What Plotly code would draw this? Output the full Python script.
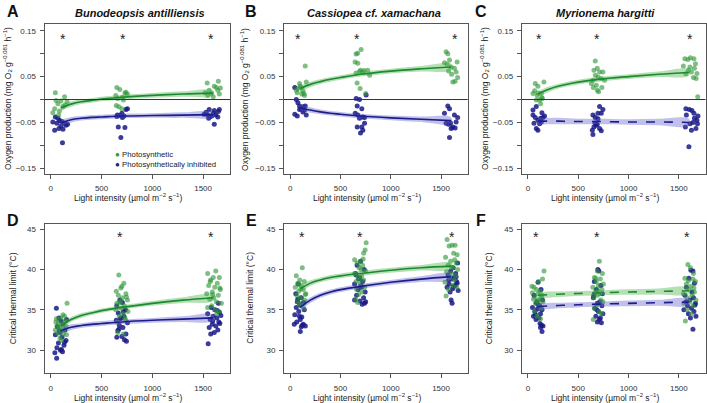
import plotly.graph_objects as go

W, H = 707, 403

# ---------------- DATA ----------------
# Fitted-curve grid (light intensity)
fit_x = [100, 200, 300, 400, 500, 700, 1000, 1300, 1600]

# Panel A: Bunodeopsis antilliensis (oxygen production)
A_green_x = [45, 52, 70, 38, 85, 118, 140, 135, 100, 20, 78, 160,
             650, 680, 640, 730, 755, 705, 715, 670, 645, 700, 740, 660,
             1540, 1650, 1610, 1560, 1630, 1645, 1580, 1545, 1520, 1670, 1600, 1660]
A_green_y = [0.015, -0.002, -0.009, -0.020, -0.025, -0.016, -0.012, 0.006, -0.003, -0.029, -0.034, -0.005,
             0.026, 0.022, 0.009, 0.014, 0.012, 0.005, -0.001, -0.016, -0.013, -0.020, 0.016, 0.002,
             0.036, 0.040, 0.029, 0.020, 0.026, 0.020, 0.013, 0.009, 0.015, 0.025, 0.006, 0.012]
A_blue_x = [45, 70, 88, 38, 80, 100, 120, 135, 150, 165, 60, 115, 20, 110,
            655, 680, 720, 740, 755, 665, 730, 690, 705, 650, 700,
            1560, 1610, 1660, 1510, 1545, 1585, 1625, 1645, 1570, 1600, 1530, 1610, 1650, 1555]
A_blue_y = [-0.038, -0.041, -0.046, -0.067, -0.063, -0.058, -0.065, -0.052, -0.056, -0.054, -0.052, -0.094, -0.049, -0.048,
            -0.034, -0.035, -0.036, -0.022, -0.020, -0.060, -0.061, -0.083, -0.039, -0.037, -0.030,
            -0.022, -0.024, -0.022, -0.032, -0.034, -0.036, -0.034, -0.038, -0.037, -0.030, -0.028, -0.054, -0.026, -0.041]
A_green_fit = [-0.018, -0.010, -0.005, -0.002, 0.001, 0.005, 0.009, 0.012, 0.014]
A_green_lo = [-0.025, -0.016, -0.010, -0.007, -0.004, 0.000, 0.004, 0.006, 0.008]
A_green_hi = [-0.011, -0.004, 0.000, 0.003, 0.006, 0.010, 0.014, 0.018, 0.020]
A_blue_fit = [-0.051, -0.044, -0.041, -0.039, -0.038, -0.036, -0.035, -0.034, -0.033]
A_blue_lo = [-0.058, -0.050, -0.046, -0.044, -0.043, -0.041, -0.040, -0.040, -0.039]
A_blue_hi = [-0.044, -0.038, -0.036, -0.034, -0.033, -0.031, -0.030, -0.028, -0.027]

# Panel B: Cassiopea cf. xamachana
B_green_x = [60, 76, 93, 109, 70, 126, 142, 116, 159, 149, 99, 136,
             655, 670, 705, 645, 672, 665, 695, 655, 700, 720, 735, 770, 790, 750, 688,
             1550, 1567, 1584, 1561, 1600, 1633, 1660, 1650, 1605, 1617, 1640, 1665, 1575, 1534]
B_green_y = [0.020, 0.024, 0.035, 0.026, 0.015, 0.019, 0.009, 0.012, 0.038, 0.073, 0.029, 0.013,
             0.099, 0.101, 0.109, 0.082, 0.079, 0.036, 0.024, 0.058, 0.064, 0.060, 0.063, 0.064, 0.053, 0.013, 0.061,
             0.104, 0.100, 0.086, 0.077, 0.071, 0.068, 0.082, 0.060, 0.055, 0.038, 0.040, 0.048, 0.062, 0.080]
B_blue_x = [60, 76, 93, 109, 126, 142, 45, 70, 159, 126, 93, 149, 45,
            656, 689, 666, 712, 646, 673, 722, 739, 689, 666, 712, 739, 699, 722, 755,
            1567, 1584, 1534, 1633, 1550, 1594, 1650, 1665, 1600, 1617, 1640, 1584, 1575]
B_blue_y = [0.000, -0.007, -0.014, -0.020, -0.016, -0.023, -0.032, -0.036, -0.034, -0.027, -0.022, -0.014, 0.026,
            0.002, 0.000, -0.014, -0.020, -0.030, -0.034, -0.038, -0.039, -0.041, -0.060, -0.060, -0.052, -0.073, -0.067, 0.010,
            -0.014, -0.020, -0.030, -0.034, -0.052, -0.051, -0.049, -0.039, -0.063, -0.060, -0.062, -0.083, -0.054]
B_green_fit = [0.024, 0.033, 0.039, 0.044, 0.048, 0.055, 0.062, 0.067, 0.071]
B_green_lo = [0.017, 0.027, 0.034, 0.039, 0.043, 0.050, 0.057, 0.061, 0.064]
B_green_hi = [0.031, 0.039, 0.044, 0.049, 0.053, 0.060, 0.067, 0.073, 0.078]
B_blue_fit = [-0.018, -0.023, -0.027, -0.030, -0.032, -0.036, -0.040, -0.043, -0.046]
B_blue_lo = [-0.025, -0.029, -0.032, -0.035, -0.037, -0.041, -0.045, -0.049, -0.053]
B_blue_hi = [-0.011, -0.017, -0.022, -0.025, -0.027, -0.031, -0.035, -0.037, -0.039]

# Panel C: Myrionema hargitti
C_green_x = [50, 66, 73, 99, 116, 93, 133, 139, 159, 83, 126, 142, 100,
             669, 689, 656, 712, 670, 696, 729, 745, 646, 679, 690, 650, 702, 735, 762, 630,
             1560, 1590, 1615, 1650, 1665, 1545, 1595, 1625, 1655, 1570, 1680, 1672, 1645, 1688, 1610]
C_green_y = [0.013, 0.019, 0.035, 0.029, -0.001, 0.009, 0.013, 0.004, 0.038, -0.001, -0.009, 0.002, 0.014,
             0.084, 0.068, 0.064, 0.060, 0.053, 0.049, 0.046, 0.060, 0.042, 0.031, 0.020, 0.026, 0.017, 0.026, 0.042, 0.035,
             0.089, 0.087, 0.091, 0.089, 0.078, 0.073, 0.064, 0.060, 0.068, 0.056, 0.057, 0.046, 0.048, 0.006, 0.071]
C_blue_x = [50, 73, 99, 126, 149, 165, 60, 116, 83, 99, 133, 83, 50, 139,
            646, 669, 696, 729, 745, 712, 666, 689, 640, 712, 729, 646, 679, 696, 656,
            1570, 1605, 1630, 1575, 1655, 1680, 1690, 1640, 1610, 1565, 1670, 1625, 1600, 1685, 1650]
C_blue_y = [-0.034, -0.039, -0.045, -0.041, -0.039, -0.036, -0.052, -0.053, -0.063, -0.067, -0.049, -0.015, -0.023, -0.029,
            -0.034, -0.039, -0.030, -0.030, -0.022, -0.015, -0.051, -0.054, -0.067, -0.063, -0.068, -0.076, -0.056, -0.042, -0.060,
            -0.020, -0.022, -0.024, -0.034, -0.041, -0.045, -0.036, -0.050, -0.053, -0.060, -0.063, -0.067, -0.103, -0.053, -0.030]
C_green_fit = [0.012, 0.022, 0.029, 0.034, 0.038, 0.044, 0.050, 0.055, 0.059]
C_green_lo = [0.006, 0.016, 0.024, 0.029, 0.033, 0.039, 0.045, 0.049, 0.052]
C_green_hi = [0.018, 0.028, 0.034, 0.039, 0.043, 0.049, 0.055, 0.061, 0.066]
C_blue_fit = [-0.047, -0.047, -0.047, -0.048, -0.048, -0.048, -0.049, -0.049, -0.050]
C_blue_lo = [-0.055, -0.054, -0.054, -0.054, -0.054, -0.054, -0.055, -0.056, -0.058]
C_blue_hi = [-0.039, -0.040, -0.040, -0.041, -0.042, -0.042, -0.043, -0.042, -0.042]

# Panel D: Bunodeopsis antilliensis (critical thermal limit)
D_green_x = [160, 120, 95, 55, 140, 75, 110, 60, 150, 85, 130, 45, 100, 70, 155, 90, 125, 50, 135, 80, 105,
             670, 720, 690, 645, 740, 665, 705, 755, 680, 650, 725, 695, 640, 760, 710, 675, 735, 655, 700, 745, 685, 660, 715, 730,
             1625, 1545, 1600, 1660, 1575, 1640, 1555, 1615, 1670, 1590, 1535, 1650, 1605, 1565, 1630, 1680, 1585, 1545, 1620, 1655, 1595, 1665, 1570, 1635]
D_green_y = [35.8, 34.4, 34.0, 33.9, 33.6, 33.4, 33.2, 33.0, 33.0, 32.8, 32.6, 32.5, 32.3, 32.1, 31.9, 31.5, 32.0, 33.5, 34.2, 32.7, 31.2,
             39.3, 38.3, 37.7, 37.3, 37.0, 36.8, 36.5, 36.2, 36.0, 35.8, 35.5, 35.2, 35.0, 34.8, 34.5, 34.2, 33.8, 33.5, 37.9, 36.6, 35.9, 32.2, 32.0, 34.0,
             39.8, 39.5, 39.0, 39.0, 38.7, 38.3, 38.0, 37.8, 37.5, 37.2, 37.0, 36.8, 36.5, 36.3, 36.0, 35.8, 35.5, 35.3, 35.0, 34.8, 36.9, 37.7, 38.5, 34.5]
D_blue_x = [55, 80, 100, 120, 65, 140, 90, 45, 110, 150, 75, 130, 60, 95, 115, 40, 58, 135, 85, 155, 105,
            680, 705, 650, 735, 665, 720, 690, 645, 755, 675, 710, 660, 740, 700, 650, 725, 745, 685, 715, 670,
            1650, 1580, 1615, 1660, 1545, 1600, 1635, 1570, 1655, 1590, 1625, 1560, 1645, 1610, 1550, 1675, 1595, 1640, 1665, 1575]
D_blue_y = [35.2, 34.0, 33.6, 33.2, 32.9, 32.5, 32.2, 31.9, 31.6, 31.2, 30.9, 30.6, 30.3, 30.0, 29.8, 29.7, 29.0, 31.0, 32.4, 33.8, 30.1,
            36.2, 35.9, 35.5, 35.0, 34.6, 34.2, 34.0, 33.7, 33.4, 33.1, 32.8, 32.4, 32.0, 31.7, 31.6, 31.3, 31.1, 33.9, 34.8, 32.6,
            35.8, 35.3, 35.0, 34.7, 34.5, 34.2, 34.0, 33.8, 33.5, 33.2, 33.0, 32.8, 32.5, 32.2, 30.8, 34.3, 33.6, 34.9, 33.3, 32.0]
D_green_fit = [33.0, 33.8, 34.3, 34.6, 34.9, 35.3, 35.8, 36.2, 36.5]
D_green_lo = [32.6, 33.5, 34.0, 34.35, 34.65, 35.05, 35.5, 35.85, 36.1]
D_green_hi = [33.4, 34.1, 34.6, 34.85, 35.15, 35.55, 36.1, 36.55, 36.9]
D_blue_fit = [32.4, 32.85, 33.05, 33.2, 33.3, 33.5, 33.7, 33.85, 34.0]
D_blue_lo = [32.0, 32.5, 32.75, 32.9, 33.0, 33.2, 33.4, 33.5, 33.6]
D_blue_hi = [32.8, 33.2, 33.35, 33.5, 33.6, 33.8, 34.0, 34.2, 34.4]

# Panel E: Cassiopea cf. xamachana
E_green_x = [120, 60, 95, 140, 75, 110, 50, 130, 85, 155, 65, 100, 145, 70, 115, 90, 135, 80, 105, 150,
             755, 745, 730, 640, 700, 665, 720, 685, 750, 640, 710, 675, 730, 655, 695, 740, 660, 715, 680, 705, 725, 690, 650, 670,
             1560, 1610, 1640, 1580, 1625, 1660, 1545, 1595, 1650, 1570, 1620, 1665, 1555, 1600, 1645, 1585, 1630, 1540, 1615, 1655, 1575, 1550, 1635, 1605]
E_green_y = [40.2, 39.2, 38.7, 38.5, 38.3, 38.0, 37.8, 37.5, 37.3, 37.0, 36.8, 36.5, 36.2, 36.0, 35.8, 35.5, 35.2, 38.2, 37.6, 36.9,
             43.3, 42.4, 42.0, 41.2, 41.0, 40.8, 40.5, 40.2, 39.8, 39.5, 39.2, 39.0, 38.7, 38.5, 38.2, 37.8, 37.5, 37.2, 36.9, 40.0, 41.3, 38.8, 36.3, 35.9,
             43.7, 43.0, 43.0, 42.9, 42.0, 41.8, 41.5, 41.0, 40.8, 40.5, 40.2, 40.0, 39.7, 39.5, 39.2, 39.0, 38.7, 38.4, 38.0, 37.8, 37.5, 36.7, 41.2, 40.3]
E_blue_x = [80, 55, 110, 70, 125, 95, 60, 140, 85, 45, 115, 100, 40, 130, 150, 120, 110, 100, 65, 90, 135, 75,
            700, 665, 735, 650, 690, 720, 640, 705, 675, 745, 660, 730, 640, 695, 750, 715, 740, 680, 710, 655,
            1665, 1620, 1595, 1645, 1570, 1630, 1605, 1655, 1580, 1640, 1560, 1615, 1670, 1590, 1600, 1610, 1650, 1575, 1625, 1660]
E_blue_y = [38.2, 37.0, 36.5, 36.0, 35.8, 35.6, 35.3, 35.0, 34.8, 34.4, 34.1, 33.8, 33.2, 33.2, 33.0, 33.1, 32.9, 32.3, 33.5, 34.2, 35.9, 36.3,
            41.0, 40.5, 40.0, 39.5, 39.0, 38.5, 38.2, 38.0, 37.5, 37.2, 36.8, 36.5, 36.2, 36.1, 36.0, 35.7, 35.8, 38.8, 37.8, 39.3,
            40.8, 40.2, 39.8, 39.5, 39.3, 39.0, 38.8, 38.5, 38.2, 38.0, 37.8, 37.6, 37.4, 37.2, 36.2, 35.8, 39.1, 38.7, 37.9, 38.3]
E_green_fit = [37.6, 38.3, 38.7, 39.0, 39.2, 39.5, 39.9, 40.2, 40.4]
E_green_lo = [37.2, 37.95, 38.4, 38.7, 38.9, 39.2, 39.6, 39.85, 40.0]
E_green_hi = [38.0, 38.65, 39.0, 39.3, 39.5, 39.8, 40.2, 40.55, 40.8]
E_blue_fit = [35.3, 36.2, 36.8, 37.2, 37.5, 37.9, 38.4, 38.8, 39.1]
E_blue_lo = [34.9, 35.85, 36.5, 36.9, 37.2, 37.6, 38.1, 38.45, 38.7]
E_blue_hi = [35.7, 36.55, 37.1, 37.5, 37.8, 38.2, 38.7, 39.15, 39.5]

# Panel F: Myrionema hargitti
F_green_x = [160, 145, 105, 60, 85, 120, 45, 100, 140, 70, 130, 55, 95, 150, 75, 115, 135, 65, 90, 125, 40, 110,
             710, 690, 740, 660, 720, 680, 750, 700, 645, 735, 670, 715, 690, 655, 725, 745, 685, 660, 705, 730, 650, 675, 695,
             1590, 1615, 1645, 1560, 1640, 1665, 1575, 1620, 1600, 1655, 1545, 1630, 1585, 1670, 1610, 1550, 1640, 1580, 1625, 1565, 1650, 1595]
F_green_y = [39.8, 38.8, 38.5, 37.8, 37.5, 37.3, 37.1, 37.0, 36.8, 36.6, 36.5, 36.3, 36.1, 36.0, 35.8, 35.6, 35.2, 34.8, 34.2, 33.9, 37.9, 36.2,
             41.0, 39.8, 39.5, 39.0, 38.8, 38.5, 38.2, 38.0, 37.8, 37.5, 37.2, 37.0, 36.8, 36.5, 36.2, 36.0, 35.6, 35.2, 34.8, 34.5, 33.8, 38.9, 37.4,
             40.6, 40.2, 39.5, 38.9, 38.8, 38.5, 38.2, 37.9, 37.5, 37.2, 37.0, 36.8, 36.5, 36.2, 36.0, 35.8, 35.5, 35.0, 34.5, 33.6, 37.7, 38.6]
F_blue_x = [100, 130, 60, 145, 85, 115, 45, 95, 140, 70, 125, 55, 110, 80, 120, 135, 150, 125, 140, 105, 75, 90,
            695, 705, 660, 725, 680, 740, 650, 715, 690, 735, 665, 700, 745, 675, 720, 710, 690, 730, 655, 685,
            1620, 1640, 1600, 1655, 1575, 1630, 1560, 1645, 1610, 1665, 1585, 1625, 1550, 1650, 1595, 1670, 1615, 1640, 1570, 1660]
F_blue_y = [38.4, 37.5, 36.8, 36.2, 35.8, 35.5, 35.3, 35.1, 35.0, 34.8, 34.5, 34.2, 34.0, 33.8, 33.3, 33.1, 33.0, 32.8, 32.3, 35.6, 34.4, 36.0,
            40.0, 39.8, 38.5, 38.0, 37.5, 37.0, 36.5, 36.0, 35.8, 35.5, 35.2, 34.8, 34.5, 34.2, 34.0, 33.8, 33.5, 33.4, 36.8, 35.0,
            39.9, 39.8, 38.9, 38.3, 37.8, 37.2, 36.8, 36.5, 36.2, 35.8, 35.5, 35.2, 35.0, 34.8, 34.5, 34.2, 34.0, 32.6, 36.0, 35.6]
F_green_fit = [36.8, 36.87, 36.93, 36.98, 37.02, 37.1, 37.2, 37.28, 37.35]
F_green_lo = [36.4, 36.5, 36.6, 36.65, 36.7, 36.8, 36.85, 36.9, 36.95]
F_green_hi = [37.2, 37.25, 37.27, 37.3, 37.34, 37.4, 37.55, 37.65, 37.75]
F_blue_fit = [35.4, 35.47, 35.53, 35.58, 35.62, 35.7, 35.8, 35.88, 35.95]
F_blue_lo = [35.0, 35.1, 35.2, 35.25, 35.3, 35.4, 35.45, 35.5, 35.55]
F_blue_hi = [35.8, 35.85, 35.87, 35.9, 35.94, 36.0, 36.15, 36.25, 36.35]

# Significance stars (x positions)
stars_x = {"A": [116, 713, 1580], "B": [76, 662, 1638], "C": [109, 686, 1608],
           "D": [679, 1580], "E": [117, 689, 1608], "F": [83, 689, 1580]}

titles = ["Bunodeopsis antilliensis", "Cassiopea cf. xamachana", "Myrionema hargitti"]
legend_names = ["Photosynthetic", "Photosynthetically inhibited"]
x_ticks = [0, 500, 1000, 1500]
y_ticks_top = [-0.15, -0.10, -0.05, 0.0, 0.05, 0.10, 0.15]
y_ticktext_top = ["\u22120.15", "", "\u22120.05", "", "0.05", "", "0.15"]
y_ticks_bot = [30, 35, 40, 45]

# ---------------- STYLE ----------------
GREEN_PT = "rgba(45,150,55,0.62)"
BLUE_PT = "rgba(25,25,135,0.85)"
GREEN_LN = "#1b8a30"
BLUE_LN = "#1c1c8c"
GREEN_BAND = "rgba(70,175,70,0.40)"
BLUE_BAND = "rgba(90,90,200,0.38)"
FONT = "Liberation Sans, Arial, sans-serif"

cols_px = [(44.5, 230.0), (284.0, 467.7), (521.7, 705.5)]
rows_px = [(24.3, 173.5), (223.5, 373.0)]
XR = [-62, 1765]
YR_TOP = [-0.1613, 0.164]
YR_BOT = [27.18, 45.68]


def px(x):
    return x / W


def py(y):
    return 1 - y / H


panels = [
    ("A", A_green_x, A_green_y, A_blue_x, A_blue_y, A_green_fit, A_green_lo, A_green_hi, A_blue_fit, A_blue_lo, A_blue_hi, "solid", "solid"),
    ("B", B_green_x, B_green_y, B_blue_x, B_blue_y, B_green_fit, B_green_lo, B_green_hi, B_blue_fit, B_blue_lo, B_blue_hi, "solid", "solid"),
    ("C", C_green_x, C_green_y, C_blue_x, C_blue_y, C_green_fit, C_green_lo, C_green_hi, C_blue_fit, C_blue_lo, C_blue_hi, "solid", "dash"),
    ("D", D_green_x, D_green_y, D_blue_x, D_blue_y, D_green_fit, D_green_lo, D_green_hi, D_blue_fit, D_blue_lo, D_blue_hi, "solid", "solid"),
    ("E", E_green_x, E_green_y, E_blue_x, E_blue_y, E_green_fit, E_green_lo, E_green_hi, E_blue_fit, E_blue_lo, E_blue_hi, "solid", "solid"),
    ("F", F_green_x, F_green_y, F_blue_x, F_blue_y, F_green_fit, F_green_lo, F_green_hi, F_blue_fit, F_blue_lo, F_blue_hi, "dash", "dash"),
]

fig = go.Figure()
layout = dict(width=W, height=H, autosize=False, margin=dict(l=0, r=0, t=0, b=0),
              paper_bgcolor="white", plot_bgcolor="white", showlegend=False,
              font=dict(family=FONT, color="#222"))
annotations = []
shapes = []

for i, (lab, gx, gy, bx, by, gf, glo, ghi, bf, blo, bhi, gdash, bdash) in enumerate(panels):
    r, c = divmod(i, 3)
    n = i + 1
    xa = "x" if n == 1 else f"x{n}"
    ya = "y" if n == 1 else f"y{n}"
    xkey = "xaxis" if n == 1 else f"xaxis{n}"
    ykey = "yaxis" if n == 1 else f"yaxis{n}"
    (cl, cr), (rt, rb) = cols_px[c], rows_px[r]
    top = r == 0

    axis_common = dict(showline=True, mirror=True, linecolor="#555", linewidth=1,
                       ticks="outside", ticklen=4, tickcolor="#555", tickwidth=1,
                       showgrid=False, zeroline=False,
                       tickfont=dict(size=8, color="#333", family=FONT))
    layout[xkey] = dict(axis_common, domain=[px(cl), px(cr)], range=XR, anchor=ya,
                        tickvals=x_ticks, ticktext=[str(t) for t in x_ticks], ticklabelstandoff=3)
    if top:
        layout[ykey] = dict(axis_common, domain=[py(rb), py(rt)], range=YR_TOP, anchor=xa,
                            tickvals=y_ticks_top, ticktext=y_ticktext_top, ticklabelstandoff=2)
    else:
        layout[ykey] = dict(axis_common, domain=[py(rb), py(rt)], range=YR_BOT, anchor=xa,
                            tickvals=y_ticks_bot, ticktext=[str(t) for t in y_ticks_bot], ticklabelstandoff=2)

    # points
    fig.add_trace(go.Scatter(x=bx, y=by, mode="markers", xaxis=xa, yaxis=ya,
                             marker=dict(size=5, color=BLUE_PT, line=dict(width=0)), hoverinfo="skip"))
    fig.add_trace(go.Scatter(x=gx, y=gy, mode="markers", xaxis=xa, yaxis=ya,
                             marker=dict(size=5, color=GREEN_PT, line=dict(width=0)), hoverinfo="skip"))
    # bands
    for lo, hi, col in [(blo, bhi, BLUE_BAND), (glo, ghi, GREEN_BAND)]:
        fig.add_trace(go.Scatter(x=fit_x + fit_x[::-1], y=hi + lo[::-1], mode="lines", fill="toself",
                                 fillcolor=col, line=dict(width=0, shape="spline"), xaxis=xa, yaxis=ya,
                                 hoverinfo="skip"))
    # fitted lines
    fig.add_trace(go.Scatter(x=fit_x, y=bf, mode="lines", xaxis=xa, yaxis=ya,
                             line=dict(color=BLUE_LN, width=1.6, dash=bdash, shape="spline"), hoverinfo="skip"))
    fig.add_trace(go.Scatter(x=fit_x, y=gf, mode="lines", xaxis=xa, yaxis=ya,
                             line=dict(color=GREEN_LN, width=1.6, dash=gdash, shape="spline"), hoverinfo="skip"))

    if top:
        shapes.append(dict(type="line", xref=f"{xa} domain", yref=ya, x0=0, x1=1, y0=0, y1=0,
                           line=dict(color="#333", width=1)))

    # stars
    for sx in stars_x[lab]:
        annotations.append(dict(x=sx, y=0.133 if top else 44.0, xref=xa, yref=ya, text="*",
                                showarrow=False, font=dict(size=14, color="#222", family=FONT)))

    # x-axis title
    xt_center = (cl + cr) / 2 - 9
    annotations.append(dict(x=px(xt_center), y=py(197.5 if top else 397.5), xref="paper", yref="paper",
                            text="Light intensity (\u00b5mol m<sup>\u22122</sup> s<sup>\u22121</sup>)",
                            showarrow=False, xanchor="center", yanchor="middle",
                            font=dict(size=8.5, color="#222", family=FONT)))
    # y-axis title
    if top:
        ytx = [8, 245, 485][c]
        ytxt = "Oxygen production (mg O<sub>2</sub> g<sup>\u22120.081</sup> h<sup>\u22121</sup>)"
    else:
        ytx = [13, 250.5, 489][c]
        ytxt = "Critical thermal limit (\u00b0C)"
    annotations.append(dict(x=px(ytx), y=py((rt + rb) / 2), xref="paper", yref="paper", text=ytxt,
                            textangle=-90, showarrow=False, xanchor="center", yanchor="middle",
                            font=dict(size=8.5, color="#222", family=FONT)))

    # panel letter
    lx = [13, 251, 481][c]
    ly = 11 if top else 221
    annotations.append(dict(x=px(lx), y=py(ly), xref="paper", yref="paper", text=f"<b>{lab}</b>",
                            showarrow=False, xanchor="center", yanchor="middle",
                            font=dict(size=16, color="#111", family=FONT)))

# species titles
for c, t in enumerate(titles):
    tx = [140, 374, 605][c]
    annotations.append(dict(x=px(tx), y=py(13), xref="paper", yref="paper", text=f"<b><i>{t}</i></b>",
                            showarrow=False, xanchor="center", yanchor="middle",
                            font=dict(size=11, color="#111", family=FONT)))

# legend (panel A) as a single two-line text block
legend_text = (f"<span style='color:#2e9a3a; font-size:8px'>\u25cf</span> {legend_names[0]}<br>"
               f"<span style='color:#1c1c8c; font-size:8px'>\u25cf</span> {legend_names[1]}")
annotations.append(dict(x=px(112.5), y=py(159.2), xref="paper", yref="paper", text=legend_text,
                        showarrow=False, xanchor="left", yanchor="middle", align="left",
                        font=dict(size=7.8, color="#222", family=FONT)))

layout["annotations"] = annotations
layout["shapes"] = shapes
fig.update_layout(**layout)
fig.write_html("out.html")
